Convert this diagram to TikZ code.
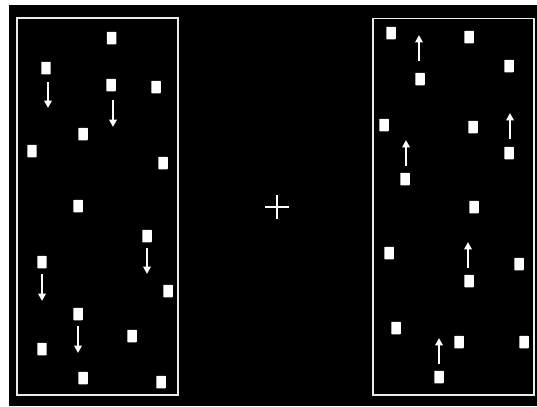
\documentclass[tikz,border=0pt]{standalone}
\usetikzlibrary{arrows.meta}

\tikzset{
  sq/.style={fill=white, draw=none, inner sep=0pt, minimum width=0.19cm, minimum height=0.25cm, rounded corners=0.4pt},
  motion/.style={white, line width=1.1pt, -{Triangle[length=4.2pt,width=4.2pt]}},
  frame/.style={draw=white!92!black, line width=1pt}
}

\begin{document}
\begin{tikzpicture}[x=0.02cm, y=-0.02cm]
  \useasboundingbox (0,0) rectangle (537,406);
  \fill[white] (0,0) rectangle (537,406);
  \fill[black] (8.5,5) rectangle (537,406);
  % the two panels
  \draw[frame] (17,18) rectangle (178,395);
  \draw[frame] (373,18.5) rectangle (534,395);
  % left panel: squares moving down
  \foreach \x/\y [count=\i] in {111.5/38, 46/68, 111/85, 156/87, 83/134, 32/151, 163/163, 78/206,
      147/236, 42/262, 168/291, 78/314, 132/336, 42/349, 83/378, 161/382}
    \node[sq] (l\i) at (\x,\y) {};
  \foreach \x/\ya/\yb in {48/82/108, 113/100/127, 147/248/274, 42/274/301, 78/326/353}
    \draw[motion] (\x,\ya) -- (\x,\yb);
  % right panel: squares moving up
  \foreach \x/\y [count=\i] in {391/33, 469/37, 509/66, 420/79, 384/125, 473/127, 509/153, 405/179,
      474/207, 389/253, 519/264, 469/281, 396/328, 459/342, 524/342, 439/377}
    \node[sq] (r\i) at (\x,\y) {};
  \foreach \x/\ya/\yb in {419/61/35, 510/139/113, 406/166/140, 468/268/242, 439/364/338}
    \draw[motion] (\x,\ya) -- (\x,\yb);
  % fixation cross
  \coordinate (fix) at (277,207);
  \draw[white, line width=0.9pt] ([xshift=-0.24cm]fix) -- ([xshift=0.24cm]fix);
  \draw[white, line width=0.9pt] ([yshift=-0.24cm]fix) -- ([yshift=0.24cm]fix);
\end{tikzpicture}
\end{document}
